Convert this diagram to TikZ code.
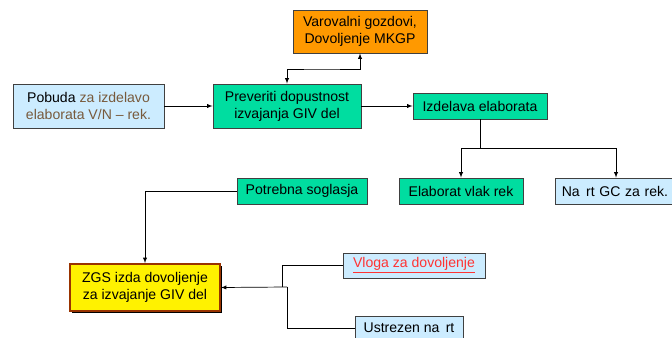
\documentclass[tikz,border=0pt]{standalone}
\usepackage{fontspec}
\setmainfont{Liberation Sans}
\usetikzlibrary{shadows}

\definecolor{zelena}{RGB}{0,221,160}
\definecolor{modra}{RGB}{204,236,255}
\definecolor{oranzna}{RGB}{255,153,0}
\definecolor{rjava}{RGB}{120,90,60}
\definecolor{okvir}{RGB}{64,64,64}
\definecolor{rdeca}{RGB}{255,51,51}

\begin{document}
\begin{tikzpicture}[x=0.03cm, y=-0.03cm]

    % Styles
    \tikzstyle{box} = [rectangle, draw=okvir, line width=0.7pt, inner sep=0pt, align=center, text=black, font=\fontsize{12}{14.5}\selectfont]
    \tikzstyle{korak} = [box, fill=zelena]
    \tikzstyle{vhod} = [box, fill=modra]
    \tikzstyle{pogoj} = [box, fill=oranzna]
    \tikzstyle{rezultat} = [box, draw={rgb,255:red,153;green,51;blue,0}, line width=1.6pt, fill=yellow, drop shadow={shadow xshift=2pt, shadow yshift=-2pt, fill=black, opacity=1}]
    \tikzstyle{arrow} = [line width=0.6pt, ->, >=latex]
    \tikzstyle{line} = [line width=0.6pt]

    \useasboundingbox (0,0) rectangle (672,338);

    % Nodes
    \node (varo) [pogoj, minimum width=4.02cm, minimum height=1.29cm] at (360,31.5) {Varovalni gozdovi,\\ Dovoljenje MKGP};
    \node (pobuda) [vhod, minimum width=4.53cm, minimum height=1.32cm] at (88.5,106) {Pobuda \textcolor{rjava}{za izdelavo}\\ \textcolor{rjava}{elaborata V/N -- rek.}};
    \node (prev) [korak, minimum width=4.44cm, minimum height=1.32cm] at (287,106) {Preveriti dopustnost\\ izvajanja GIV del};
    \node (izd) [korak, minimum width=4.02cm, minimum height=0.78cm] at (480,106) {Izdelava elaborata};
    \node (elab) [korak, minimum width=3.72cm, minimum height=0.78cm] at (461,191) {Elaborat vlak rek};
    \node (nacrt) [vhod, minimum width=3.66cm, minimum height=0.78cm, text width=3.25cm, align=left] at (616,191) {Na\hspace{0.45em}rt GC za rek.};
    \node (potr) [korak, minimum width=3.9cm, minimum height=0.78cm] at (302,191) {Potrebna soglasja};
    \node (zgs) [rezultat, minimum width=4.5cm, minimum height=1.41cm] at (145,287.5) {ZGS izda dovoljenje\\ za izvajanje GIV del};
    \node (vloga) [vhod, minimum width=4.26cm, minimum height=0.75cm] at (414,265.5) {\textcolor{rdeca}{\underline{Vloga za dovoljenje}}};
    \node (ustr) [vhod, minimum width=3.24cm, minimum height=0.72cm] at (409,328) {Ustrezen na\hspace{0.45em}rt};

    \coordinate (vm) at (320,69);
    \coordinate (split) at (480,148);
    \coordinate (vj) at (282,287);
    \coordinate (uj) at (287,287);

    % Arrows
    \draw [arrow, <->] (prev.north) |- (vm) -| (varo.south);
    \draw [arrow] (pobuda) -- (prev);
    \draw [arrow] (prev) -- (izd);
    \draw [line] (izd.south) -- (split);
    \draw [arrow] (split) -| (elab.north);
    \draw [arrow] (split) -| (nacrt.north);
    \draw [arrow] (potr.west) -| (zgs.north);
    \draw [line] (vloga.west) -| (vj);
    \draw [line] (ustr.west) -| (uj);
    \draw [arrow] (uj) -- (zgs.east);
\end{tikzpicture}
\end{document}
